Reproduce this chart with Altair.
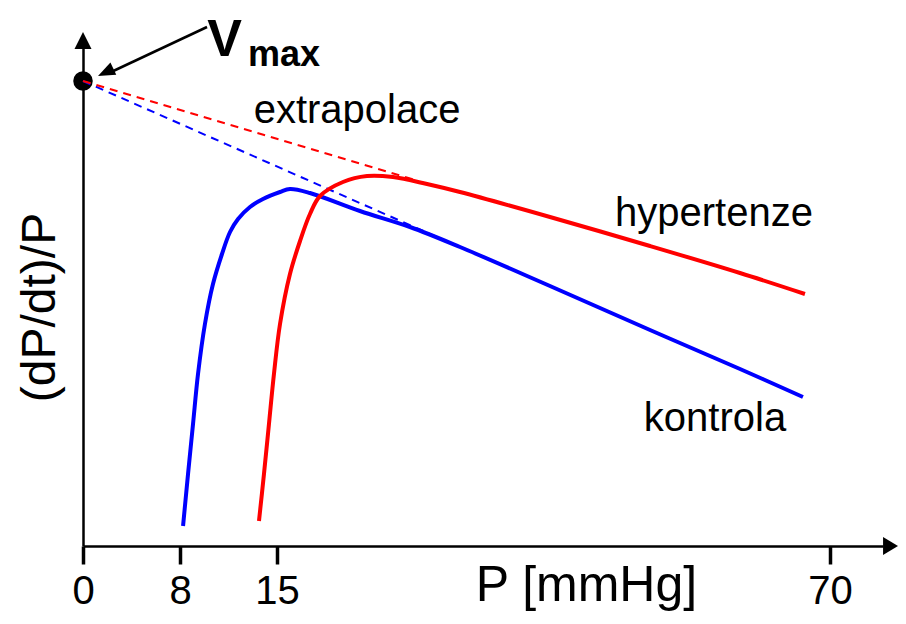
import altair as alt
import pandas as pd

FONT = "Liberation Sans"

# ---- data (x in mmHg on a schematic piecewise axis, y in relative units 0-100) ----
kontrola_x = [8.22, 8.58, 8.94, 9.30, 9.80, 10.38, 11.03, 11.61, 12.19, 13.05, 13.99, 15.30,
              16.29, 18.28, 23.25, 28.23, 33.20, 42.15, 52.10, 61.05, 67.31]
kontrola_y = [4.0, 14.4, 24.4, 34.4, 44.4, 52.4, 58.4, 62.8, 65.4, 67.8, 69.4, 70.8,
              71.4, 70.6, 67.0, 63.8, 59.8, 52.0, 43.2, 35.4, 29.8]
hyper_x = [13.70, 14.06, 14.42, 14.78, 15.30, 16.29, 17.29, 18.28, 19.28, 21.56, 23.95, 26.54,
           29.92, 33.20, 42.15, 52.10, 61.05, 67.51]
hyper_y = [5.0, 14.4, 24.4, 34.4, 44.4, 54.4, 61.0, 66.4, 70.0, 72.8, 74.0, 73.8,
           72.4, 70.8, 65.8, 60.0, 54.6, 50.4]

vmax_x = [0.0]
vmax_y = [93.0]
extrap_kontrola_end = [30.91, 61.8]
extrap_hyper_end = [28.72, 73.2]

x_ticks = [0, 8, 15, 70]
x_domain = [0, 8, 15, 70, 75.27]
x_range = [0, 97, 194, 747, 800]

series_names = ["kontrola", "hypertenze"]
series_colors = ["#0000ff", "#ff0000"]

label_text = ["extrapolace", "hypertenze", "kontrola"]
label_x = [22.96, 58.46, 58.56]
label_y = [84.6, 64.06, 23.06]

# annotation arrow (V_max)
arrow_line = {"x": [9.95], "y": [103.8], "x2": [2.06], "y2": [94.5]}
arrow_head = {"x": [1.87], "y": [94.74]}
v_pos = {"x": [11.21], "y": [98.0]}
max_pos = {"x": [12.91], "y": [96.0]}

# axis arrow heads
x_arrow = {"x": [76.02], "y": [0.0]}
y_arrow = {"x": [0.0], "y": [101.1]}

# ---- build tables ----
rows = []
for i, (xv, yv) in enumerate(zip(kontrola_x, kontrola_y)):
    rows.append({"series": "kontrola", "x": xv, "y": yv, "order": i})
for i, (xv, yv) in enumerate(zip(hyper_x, hyper_y)):
    rows.append({"series": "hypertenze", "x": xv, "y": yv, "order": i})
curves = pd.DataFrame(rows)

dash_rows = [
    {"series": "kontrola", "x": vmax_x[0], "y": vmax_y[0], "order": 0},
    {"series": "kontrola", "x": extrap_kontrola_end[0], "y": extrap_kontrola_end[1], "order": 1},
    {"series": "hypertenze", "x": vmax_x[0], "y": vmax_y[0], "order": 0},
    {"series": "hypertenze", "x": extrap_hyper_end[0], "y": extrap_hyper_end[1], "order": 1},
]
dashes = pd.DataFrame(dash_rows)

xscale = alt.Scale(domain=x_domain, range=x_range, nice=False, zero=False)
yscale = alt.Scale(domain=[0, 100], nice=False, zero=False)

xaxis = alt.Axis(
    values=x_ticks, format="d", grid=False,
    tickSize=18, tickWidth=3.5, tickColor="black",
    domainColor="black", domainWidth=2.5,
    labelFont=FONT, labelFontSize=40, labelColor="black", labelPadding=7,
    labelFlush=False, labelOverlap=False,
    title="P [mmHg]", titleFont=FONT, titleFontSize=50, titleFontWeight="normal",
    titleColor="black", titleX=503, titleY=54, titleAlign="center",
    titleBaseline="alphabetic",
)
yaxis = alt.Axis(
    ticks=False, labels=False, grid=False,
    domainColor="black", domainWidth=2.5,
    title="(dP/dt)/P", titleFont=FONT, titleFontSize=48, titleFontWeight="normal",
    titleColor="black", titleAngle=270, titleX=-43, titleY=261,
    titleAlign="center", titleBaseline="middle",
)


def X(field="x"):
    return alt.X(f"{field}:Q", scale=xscale, axis=xaxis)


def Y(field="y"):
    return alt.Y(f"{field}:Q", scale=yscale, axis=yaxis)


color = alt.Color("series:N", scale=alt.Scale(domain=series_names, range=series_colors), legend=None)

dot = alt.Chart(pd.DataFrame({"x": vmax_x, "y": vmax_y})).mark_point(
    shape="circle", size=380, filled=True, color="black", opacity=1
).encode(x=X(), y=Y())

dashed = alt.Chart(dashes).mark_line(strokeWidth=2, strokeDash=[8, 6]).encode(
    x=X(), y=Y(), color=color, order="order:Q"
)

solid = alt.Chart(curves).mark_line(strokeWidth=4, interpolate="catmull-rom").encode(
    x=X(), y=Y(), color=color, order="order:Q"
)

labels = alt.Chart(pd.DataFrame({"text": label_text, "x": label_x, "y": label_y})).mark_text(
    font=FONT, fontSize=40, color="black", align="center", baseline="alphabetic"
).encode(x=X(), y=Y(), text="text:N")

arr_line = alt.Chart(pd.DataFrame(arrow_line)).mark_rule(strokeWidth=2.5, color="black").encode(
    x=X(), y=Y(), x2="x2:Q", y2="y2:Q"
)

arr_head = alt.Chart(pd.DataFrame(arrow_head)).mark_point(
    shape="M0,-1L0.8,1L-0.8,1Z", size=289, angle=244.5, filled=True, color="black", opacity=1,
    strokeWidth=0
).encode(x=X(), y=Y())

v_text = alt.Chart(pd.DataFrame({**v_pos, "t": ["V"]})).mark_text(
    font=FONT, fontSize=52, fontWeight="bold", color="black", align="center", baseline="alphabetic"
).encode(x=X(), y=Y(), text="t:N")

max_text = alt.Chart(pd.DataFrame({**max_pos, "t": ["max"]})).mark_text(
    font=FONT, fontSize=36, fontWeight="bold", color="black", align="left", baseline="alphabetic"
).encode(x=X(), y=Y(), text="t:N")

xarr = alt.Chart(pd.DataFrame(x_arrow)).mark_point(
    shape="M-1,-1.2L1,0L-1,1.2Z", size=225, filled=True, color="black", opacity=1, strokeWidth=0
).encode(x=X(), y=Y())

yarr = alt.Chart(pd.DataFrame(y_arrow)).mark_point(
    shape="M0,-1L1,1L-1,1Z", size=289, filled=True, color="black", opacity=1, strokeWidth=0
).encode(x=X(), y=Y())

chart = alt.layer(
    dot, dashed, solid, labels, arr_line, arr_head, v_text, max_text, xarr, yarr
).properties(
    width=800, height=500,
    autosize=alt.AutoSizeParams(type="none"),
    padding={"left": 75, "top": 38, "right": 15, "bottom": 66},
).configure(background="white").configure_view(stroke=None)

chart.save("out.html", embed_options={"renderer": "svg", "actions": False})
